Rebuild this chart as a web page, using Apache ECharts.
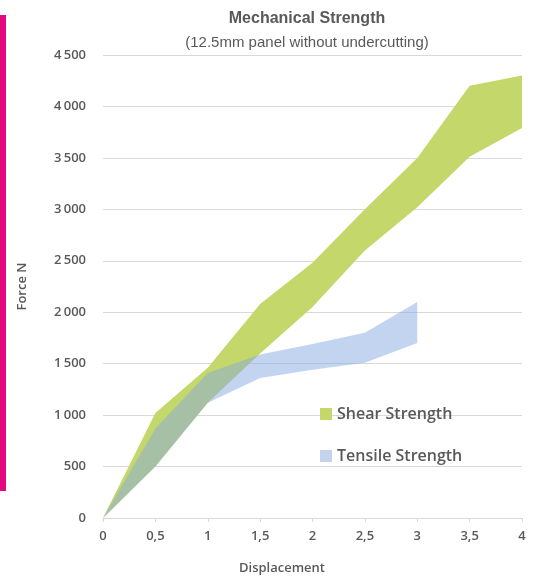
<!DOCTYPE html>
<html>
<head>
<meta charset="utf-8">
<script src="https://cdn.jsdelivr.net/npm/echarts@6/dist/echarts.min.js"></script>
<style>html,body{margin:0;padding:0;background:#fff;}#c{width:536px;height:579px;}</style>
</head>
<body>
<div id="c"></div>
<script>
const displacement = [0, 0.5, 1, 1.5, 2, 2.5, 3, 3.5, 4];
const shearLow  = [0, 500, 1120, 1600, 2050, 2600, 3020, 3510, 3790];
const shearHigh = [0, 1020, 1460, 2080, 2480, 3000, 3500, 4200, 4300];
const tensileX    = [0, 0.5, 1, 1.5, 2, 2.5, 3];
const tensileLow  = [0, 500, 1120, 1360, 1440, 1510, 1700];
const tensileHigh = [0, 870, 1410, 1590, 1690, 1800, 2100];
const yTicks = [0, 500, 1000, 1500, 2000, 2500, 3000, 3500, 4000, 4500];

const GREEN = '#c4d76b';
const BLUE_LEG = '#c4d4ef';
const BLUE_FILL = 'rgba(135,170,225,0.5)';
const TXT = '#595959';

function rows(xs, lo, hi) { return xs.map((x, i) => [x, lo[i], hi[i]]); }

function bandRenderer(xs, lo, hi, fill) {
  return function (params, api) {
    if (params.dataIndex !== 0) return null;
    const pts = [];
    for (let i = 0; i < xs.length; i++) pts.push(api.coord([xs[i], hi[i]]));
    for (let i = xs.length - 1; i >= 0; i--) pts.push(api.coord([xs[i], lo[i]]));
    return { type: 'polygon', shape: { points: pts }, style: { fill: fill } };
  };
}

const chart = echarts.init(document.getElementById('c'));
chart.setOption({
  animation: false,
  backgroundColor: '#fff',
  title: [
    { text: 'Mechanical Strength', left: 302, top: 6, textAlign: 'center',
      textStyle: { fontFamily: 'Liberation Sans', fontSize: 16, fontWeight: 'bold', color: TXT } },
    { text: '(12.5mm panel without undercutting)', left: 302, top: 30, textAlign: 'center',
      textStyle: { fontFamily: 'Liberation Sans', fontSize: 15, fontWeight: 'normal', color: TXT } },
    { text: 'Displacement', left: 277, top: 557, textAlign: 'center',
      textStyle: { fontFamily: 'Open Sans', fontSize: 13, fontWeight: 600, color: TXT } }
  ],
  graphic: [
    { type: 'rect', shape: { x: 0, y: 15, width: 6, height: 476 }, style: { fill: '#e4097f' } }
  ],
  legend: {
    orient: 'vertical', left: 315, top: 401, itemGap: 26,
    icon: 'rect', itemWidth: 12, itemHeight: 12,
    data: ['Shear Strength', 'Tensile Strength'],
    textStyle: { fontFamily: 'Open Sans', fontSize: 16, fontWeight: 600, color: TXT }
  },
  grid: { left: 103, right: 14, top: 55, bottom: 61 },
  xAxis: {
    type: 'value', min: 0, max: 4, interval: 0.5,
    axisLine: { show: true, lineStyle: { color: '#d9d9d9' } },
    axisTick: { show: true, length: 4, lineStyle: { color: '#d9d9d9' } },
    splitLine: { show: false },
    axisLabel: { margin: 12, color: TXT, fontFamily: 'Open Sans', fontSize: 13, fontWeight: 600,
      formatter: v => String(v).replace('.', ',') }
  },
  yAxis: {
    type: 'value', min: 0, max: 4500, interval: 500,
    name: 'Force N', nameLocation: 'middle', nameGap: 74, nameRotate: 90,
    nameTextStyle: { fontFamily: 'Open Sans', fontSize: 13, fontWeight: 600, color: TXT },
    axisLine: { show: false }, axisTick: { show: false },
    splitLine: { lineStyle: { color: '#d9d9d9', width: 1.2 } },
    axisLabel: { margin: 17, color: TXT, fontFamily: 'Open Sans', fontSize: 13, fontWeight: 600,
      formatter: v => yTicks.includes(v) ? String(v).replace(/\B(?=(\d{3})+(?!\d))/g, '\u2009') : '' }
  },
  series: [
    { name: 'Shear Strength', type: 'custom', z: 2,
      itemStyle: { color: GREEN },
      encode: { x: 0, y: [1, 2] },
      data: rows(displacement, shearLow, shearHigh),
      renderItem: bandRenderer(displacement, shearLow, shearHigh, GREEN) },
    { name: 'Tensile Strength', type: 'custom', z: 3,
      itemStyle: { color: BLUE_LEG },
      encode: { x: 0, y: [1, 2] },
      data: rows(tensileX, tensileLow, tensileHigh),
      renderItem: bandRenderer(tensileX, tensileLow, tensileHigh, BLUE_FILL) }
  ]
});
</script>
</body>
</html>
